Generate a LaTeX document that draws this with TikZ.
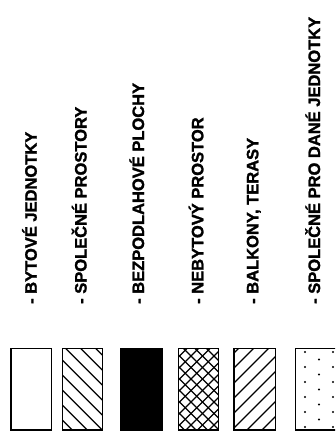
\documentclass[tikz,border=0pt]{standalone}
\usepackage{fontspec}
\newfontfamily\legendfont[FakeBold=1.6]{Liberation Sans Bold}

\begin{document}
\begin{tikzpicture}[x = 1pt, y = -1pt,
		legend/.style = {rotate = 90, anchor = base west, inner sep = 0pt, font = \fontsize{16.5}{18}\legendfont},
		frame/.style = {line width = 1.2pt},
		hatch/.style = {line width = 1.3pt}]
	\useasboundingbox (0,0) rectangle (335,443);
	\clip (0,0) rectangle (335,443);
	\begin{scope}
		\node [legend] (byt) at (36.7,304) {- BYTOVÉ JEDNOTKY};
		\node [legend] (spol) at (86.5,304) {- SPOLEČNÉ PROSTORY};
		\node [legend] (bezp) at (144,304) {- BEZPODLAHOVÉ PLOCHY};
		\node [legend] (nebyt) at (203.3,304) {- NEBYTOVÝ PROSTOR};
		\node [legend] (balk) at (258.3,304) {- BALKONY, TERASY};
		\node [legend] (spoljed) at (320,304) {- SPOLEČNÉ PRO DANÉ JEDNOTKY};
	\end{scope}

	% bytove jednotky
	\draw [frame] (11,348.3) rectangle (51.7,430);

	% spolecne prostory
	\begin{scope}
		\clip (62.3,348.3) rectangle (102.7,430);
		\foreach \k in {-5,...,4}
			\draw [hatch] ({-297.7 + 15*\k + 330},330) -- ++(110,110);
	\end{scope}
	\draw [frame] (62.3,348.3) rectangle (102.7,430);

	% bezpodlahove plochy
	\draw [frame, fill = black] (120.7,348.3) rectangle (162.3,430);

	% nebytovy prostor
	\begin{scope}
		\clip (178.3,348.3) rectangle (218.7,430);
		\foreach \k in {0,...,11} {
			\draw [hatch] ({-257 + 11.5*\k + 330},330) -- ++(110,110);
			\draw [hatch] ({524 + 11.5*\k - 330},330) -- ++(-110,110);
		}
	\end{scope}
	\draw [frame] (178.3,348.3) rectangle (218.7,430);

	% balkony, terasy
	\begin{scope}
		\clip (234,348.3) rectangle (275.7,430);
		\foreach \k in {-2,...,7}
			\draw [hatch] ({602 + 15*\k - 330},330) -- ++(-110,110);
	\end{scope}
	\draw [frame] (234,348.3) rectangle (275.7,430);

	% spolecne pro dane jednotky
	\begin{scope}
		\clip (295.3,348.3) rectangle (340,430);
		\foreach \k in {0,...,5} {
			\fill (305,{352 + 15*\k}) circle (1.2);
			\fill (333,{352 + 15*\k}) circle (1.2);
		}
		\foreach \k in {0,...,4}
			\fill (319,{359.5 + 15*\k}) circle (1.2);
	\end{scope}
	\draw [frame] (295.3,348.3) rectangle (340,430);
\end{tikzpicture}
\end{document}
